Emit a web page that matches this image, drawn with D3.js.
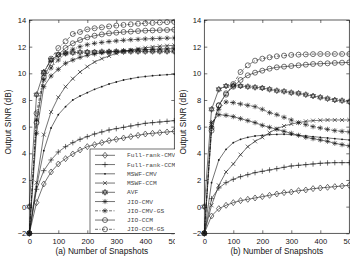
<!DOCTYPE html>
<html>
<head>
<meta charset="utf-8">
<script src="https://cdn.jsdelivr.net/npm/d3@7"></script>
<style>
  body { margin: 0; background: #fff; }
  svg { display: block; }
</style>
</head>
<body>
<svg id="chart" width="350" height="264"></svg>
<script>
// Snapshot counts (x values) and tick labels
var snapshots = [0, 25, 50, 75, 100, 125, 150, 175, 200, 225, 250, 275, 300, 325, 350, 375, 400, 425, 450, 475, 500];
var xTicks = [0, 100, 200, 300, 400, 500];
var yTicks = [-2, 0, 2, 4, 6, 8, 10, 12, 14];
var seriesNames = ['Full-rank-CMV', 'Full-rank-CCM', 'MSWF-CMV', 'MSWF-CCM', 'AVF', 'JIO-CMV', 'JIO-CMV-GS', 'JIO-CCM', 'JIO-CCM-GS'];
var panelLabels = ['(a) Number of Snapshots', '(b) Number of Snapshots'];

// Output SINR (dB), panel (a)
var aFullCMV  = [-2, 0.3, 1.7, 2.6, 3.2, 3.6, 3.95, 4.25, 4.5, 4.65, 4.8, 4.95, 5.05, 5.15, 5.25, 5.35, 5.45, 5.5, 5.55, 5.6, 5.65];
var aFullCCM  = [-2, 1.3, 2.7, 3.5, 4.1, 4.5, 4.8, 5.05, 5.25, 5.45, 5.6, 5.75, 5.85, 5.95, 6.05, 6.15, 6.25, 6.3, 6.35, 6.4, 6.45];
var aMswfCMV  = [-2, 1.5, 4.2, 5.9, 6.9, 7.5, 8.0, 8.3, 8.55, 8.8, 9.0, 9.2, 9.35, 9.5, 9.6, 9.7, 9.76, 9.82, 9.86, 9.9, 9.93];
var aMswfCCM  = [-2, 1.8, 5.4, 7.1, 8.2, 9.0, 9.6, 10.1, 10.5, 10.85, 11.1, 11.3, 11.5, 11.65, 11.75, 11.85, 11.92, 11.98, 12.03, 12.07, 12.1];
var aAVF      = [0, 8.4, 10.1, 11.0, 11.4, 11.5, 11.55, 11.58, 11.6, 11.6, 11.62, 11.62, 11.63, 11.63, 11.64, 11.64, 11.64, 11.65, 11.65, 11.65, 11.65];
var aJioCMV   = [-2, 5.5, 9.0, 9.8, 10.3, 10.75, 11.0, 11.2, 11.35, 11.45, 11.55, 11.6, 11.65, 11.7, 11.72, 11.75, 11.78, 11.8, 11.82, 11.84, 11.85];
var aJioCMVGS = [-2, 6.5, 9.5, 10.4, 11.0, 11.5, 11.8, 12.0, 12.15, 12.25, 12.32, 12.38, 12.43, 12.48, 12.52, 12.55, 12.58, 12.6, 12.62, 12.64, 12.65];
var aJioCCM   = [-2, 6.3, 9.7, 10.75, 11.4, 11.9, 12.25, 12.5, 12.7, 12.82, 12.92, 13.0, 13.05, 13.1, 13.13, 13.17, 13.2, 13.22, 13.24, 13.25, 13.27];
var aJioCCMGS = [-2, 7.0, 10.0, 11.1, 11.9, 12.4, 12.95, 13.1, 13.3, 13.38, 13.45, 13.52, 13.58, 13.63, 13.68, 13.72, 13.75, 13.78, 13.81, 13.84, 13.86];

// Output SINR (dB), panel (b)
var bFullCMV  = [-2, -0.7, -0.15, 0.1, 0.3, 0.45, 0.55, 0.65, 0.75, 0.85, 0.95, 1.05, 1.1, 1.2, 1.25, 1.35, 1.4, 1.45, 1.5, 1.55, 1.6];
var bFullCCM  = [-2, 0.6, 1.4, 1.8, 2.05, 2.25, 2.4, 2.55, 2.65, 2.75, 2.85, 2.95, 3.05, 3.1, 3.15, 3.2, 3.25, 3.28, 3.3, 3.3, 3.3];
var bMswfCMV  = [-2, 1.8, 3.5, 4.3, 4.8, 5.05, 5.2, 5.3, 5.35, 5.4, 5.42, 5.43, 5.4, 5.35, 5.3, 5.25, 5.2, 5.15, 5.1, 5.05, 5.0];
var bMswfCCM  = [-2, 0.1, 1.6, 2.6, 3.2, 3.9, 4.5, 4.9, 5.2, 5.55, 5.85, 6.05, 6.2, 6.3, 6.4, 6.45, 6.48, 6.5, 6.5, 6.5, 6.5];
var bAVF      = [0, 7.3, 8.8, 9.05, 9.08, 9.05, 9.0, 8.95, 8.9, 8.8, 8.7, 8.65, 8.55, 8.5, 8.4, 8.3, 8.2, 8.1, 8.0, 7.95, 7.87];
var bJioCMV   = [-2, 6.3, 6.9, 6.85, 6.75, 6.6, 6.45, 6.3, 6.1, 5.95, 5.8, 5.65, 5.5, 5.35, 5.2, 5.1, 5.0, 4.9, 4.75, 4.65, 4.55];
var bJioCMVGS = [-2, 6.0, 7.3, 7.85, 7.8, 7.7, 7.6, 7.5, 7.3, 7.05, 6.9, 6.7, 6.5, 6.3, 6.15, 6.0, 5.9, 5.8, 5.7, 5.65, 5.6];
var bJioCCM   = [-2, 5.7, 7.6, 8.5, 9.0, 9.5, 9.85, 10.05, 10.2, 10.35, 10.45, 10.5, 10.55, 10.6, 10.65, 10.7, 10.72, 10.75, 10.78, 10.8, 10.82];
var bJioCCMGS = [-2, 5.9, 7.6, 8.4, 9.2, 10.1, 10.6, 10.95, 11.1, 11.2, 11.28, 11.33, 11.38, 11.4, 11.42, 11.44, 11.45, 11.45, 11.45, 11.45, 11.45];

var panelA = [aFullCMV, aFullCCM, aMswfCMV, aMswfCCM, aAVF, aJioCMV, aJioCMVGS, aJioCCM, aJioCCMGS];
var panelB = [bFullCMV, bFullCCM, bMswfCMV, bMswfCCM, bAVF, bJioCMV, bJioCMVGS, bJioCCM, bJioCCMGS];

// marker + dash style for each series (same order as seriesNames)
var markers = ['diamond', 'plus', 'dot', 'cross', 'hexagram', 'asterisk', 'asterisk', 'circle', 'circle'];
var dashes = [null, null, null, null, null, null, '3,1.5,1,1.5', null, '3,1.5,1,1.5'];

var ink = '#151515',
  font = '"Liberation Sans", Arial, sans-serif',
  plotTop = 20,
  plotBottom = 233.3,
  plotW = 145,
  panelLeft = [29.3, 204.3];

var svg = d3.select('#chart');

var y = d3.scaleLinear().domain([-2, 14]).range([plotBottom, plotTop]);

// clip so the left figure is cut off where the right one starts
svg.append('defs').append('clipPath')
  .attr('id', 'clipA')
  .append('rect')
  .attr('x', 0).attr('y', 0).attr('width', 175).attr('height', 264);

function drawMarker(g, type, cx, cy) {
  var m = g.append('g').attr('transform', 'translate(' + cx + ',' + cy + ')');
  var st = function(sel) { return sel.attr('fill', 'none').attr('stroke', ink).attr('stroke-width', 0.6); };
  if (type === 'diamond') {
    st(m.append('path').attr('d', 'M0,-3L2.4,0L0,3L-2.4,0Z'));
  } else if (type === 'plus') {
    st(m.append('path').attr('d', 'M-2.7,0H2.7M0,-2.7V2.7'));
  } else if (type === 'dot') {
    m.append('circle').attr('r', 0.9).attr('fill', ink);
  } else if (type === 'cross') {
    st(m.append('path').attr('d', 'M-2,-2L2,2M-2,2L2,-2'));
  } else if (type === 'hexagram') {
    var r = 3, p1 = [], p2 = [];
    for (var k = 0; k < 3; k++) {
      var a1 = -Math.PI / 2 + k * 2 * Math.PI / 3, a2 = Math.PI / 2 + k * 2 * Math.PI / 3;
      p1.push([r * Math.cos(a1), r * Math.sin(a1)]);
      p2.push([r * Math.cos(a2), r * Math.sin(a2)]);
    }
    st(m.append('path').attr('d', 'M' + p1.join('L') + 'ZM' + p2.join('L') + 'Z'));
  } else if (type === 'asterisk') {
    st(m.append('path').attr('d', 'M-2.6,0H2.6M0,-2.6V2.6M-1.9,-1.9L1.9,1.9M-1.9,1.9L1.9,-1.9'));
  } else if (type === 'circle') {
    st(m.append('circle').attr('r', 2.5));
  }
}

function drawPanel(p, data) {
  var left = panelLeft[p];
  var x = d3.scaleLinear().domain([0, 500]).range([left, left + plotW]);

  var g = svg.append('g');
  if (p === 0) g.attr('clip-path', 'url(#clipA)');

  g.append('rect')
    .attr('x', left).attr('y', plotTop)
    .attr('width', plotW).attr('height', plotBottom - plotTop)
    .attr('fill', '#fff');

  // curves
  var line = d3.line()
    .x(function(d, i) { return x(snapshots[i]); })
    .y(function(d) { return y(d); });

  data.forEach(function(vals, s) {
    g.append('path')
      .attr('d', line(vals))
      .attr('fill', 'none')
      .attr('stroke', ink)
      .attr('stroke-width', 0.6)
      .attr('stroke-dasharray', dashes[s]);
    vals.forEach(function(v, i) {
      drawMarker(g, markers[s], x(snapshots[i]), y(v));
    });
  });

  // axes, MATLAB style: ticks inside on all four sides
  g.append('g')
    .attr('transform', 'translate(0,' + plotBottom + ')')
    .call(d3.axisBottom(x).tickValues(xTicks).tickSizeInner(-3).tickSizeOuter(0).tickPadding(5));
  g.append('g')
    .attr('transform', 'translate(0,' + plotTop + ')')
    .call(d3.axisTop(x).tickValues(xTicks).tickSizeInner(-3).tickSizeOuter(0).tickFormat(''));
  g.append('g')
    .attr('transform', 'translate(' + left + ',0)')
    .call(d3.axisLeft(y).tickValues(yTicks).tickSizeInner(-3).tickSizeOuter(0).tickPadding(3));
  g.append('g')
    .attr('transform', 'translate(' + (left + plotW) + ',0)')
    .call(d3.axisRight(y).tickValues(yTicks).tickSizeInner(-3).tickSizeOuter(0).tickFormat(''));

  g.selectAll('.domain').remove();
  g.selectAll('.tick line').attr('stroke', ink).attr('stroke-width', 0.6);
  g.selectAll('.tick text')
    .attr('fill', ink)
    .style('font-family', font)
    .style('font-size', '7.6px');

  g.append('rect')
    .attr('x', left).attr('y', plotTop)
    .attr('width', plotW).attr('height', plotBottom - plotTop)
    .attr('fill', 'none')
    .attr('stroke', ink)
    .attr('stroke-width', 0.7);

  // axis titles
  g.append('text')
    .attr('x', left + plotW / 2)
    .attr('y', 254)
    .attr('text-anchor', 'middle')
    .attr('fill', ink)
    .style('font-family', font)
    .style('font-size', '8.3px')
    .text(panelLabels[p]);

  g.append('text')
    .attr('transform', 'translate(' + (left - 18.2) + ',122) rotate(-90)')
    .attr('text-anchor', 'middle')
    .attr('fill', ink)
    .style('font-family', font)
    .style('font-size', '8.3px')
    .text('Output SINR (dB)');

  return g;
}

var gA = drawPanel(0, panelA);
drawPanel(1, panelB);

// Legend sits in the lower right corner of panel (a)
var legend = gA.append('g');
legend.append('rect')
  .attr('x', 90).attr('y', 149)
  .attr('width', 100).attr('height', 84.3)
  .attr('fill', '#fff')
  .attr('stroke', ink)
  .attr('stroke-width', 0.6);

seriesNames.forEach(function(name, s) {
  var ly = 155.3 + s * 9.25;
  legend.append('line')
    .attr('x1', 95).attr('x2', 115)
    .attr('y1', ly).attr('y2', ly)
    .attr('stroke', ink)
    .attr('stroke-width', 0.6)
    .attr('stroke-dasharray', dashes[s]);
  drawMarker(legend, markers[s], 105, ly);
  legend.append('text')
    .attr('x', 127)
    .attr('y', ly)
    .attr('dy', '0.35em')
    .attr('fill', '#444')
    .style('font-family', '"Liberation Mono", "DejaVu Sans Mono", monospace')
    .style('font-size', '6.2px')
    .text(name);
});
</script>
</body>
</html>
